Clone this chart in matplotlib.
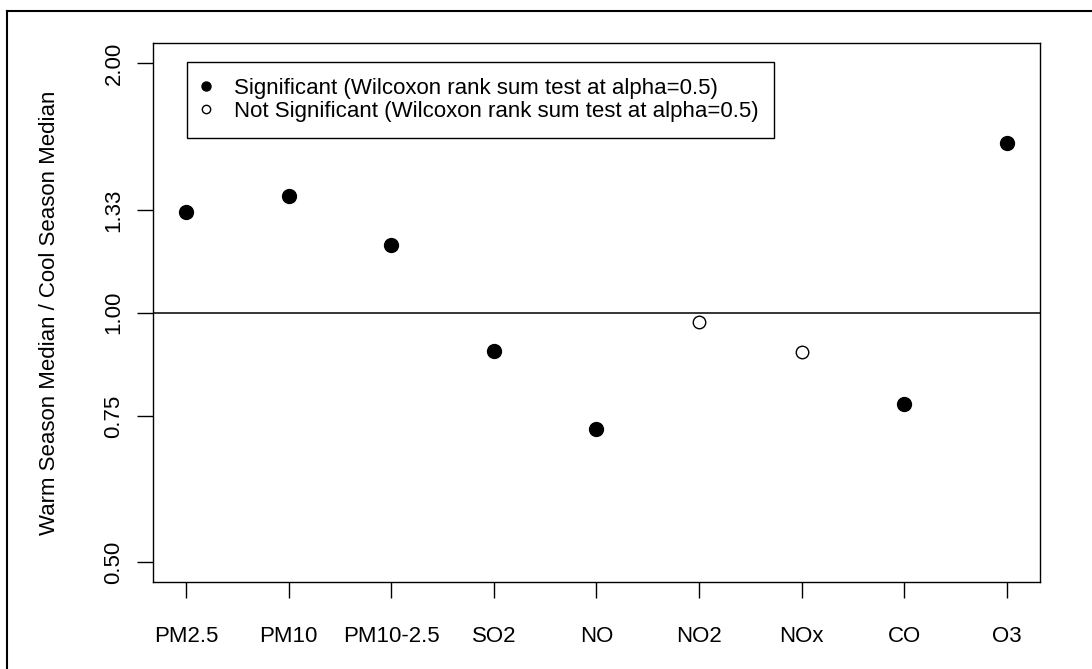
import matplotlib
matplotlib.use("Agg")
import matplotlib.pyplot as plt
from matplotlib.lines import Line2D
import numpy as np

plt.rcParams['font.family'] = ['Liberation Sans', 'DejaVu Sans']

categories = ["PM2.5", "PM10", "PM10-2.5", "SO2", "NO", "NO2", "NOx", "CO", "O3"]
ratios = [1.323, 1.383, 1.207, 0.898, 0.723, 0.973, 0.895, 0.775, 1.603]
significant = [True, True, True, True, True, False, False, True, True]
ytick_vals = [0.50, 0.75, 1.00, 1.33, 2.00]
ytick_labels = ["0.50", "0.75", "1.00", "1.33", "2.00"]
legend_labels = ["Significant (Wilcoxon rank sum test at alpha=0.5)",
                 "Not Significant (Wilcoxon rank sum test at alpha=0.5)"]
ylabel = "Warm Season Median / Cool Season Median"

W, H = 1092, 669
FS = 16
fig = plt.figure(figsize=(W / 100, H / 100), dpi=100)
ax = fig.add_axes([153 / W, 1 - 582 / H, (1040 - 153) / W, (582 - 43) / H])

x = np.arange(1, len(categories) + 1)
ratios = np.array(ratios)
sig = np.array(significant)

ax.plot(x[sig], ratios[sig], 'o', color='black', markersize=10, linestyle='none', zorder=3)
ax.plot(x[~sig], ratios[~sig], 'o', markerfacecolor='white', markeredgecolor='black',
        markersize=9, markeredgewidth=1.0, linestyle='none', zorder=3)

ax.axhline(1.0, color='black', linewidth=1.1, zorder=2)

ax.set_yscale('log')
ax.set_ylim(2 ** -1.08, 2 ** 1.08)
ax.set_xlim(0.68, 9.32)
ax.set_yticks(ytick_vals)
ax.set_yticklabels(ytick_labels, rotation=90, va='center')
ax.yaxis.set_minor_locator(matplotlib.ticker.NullLocator())
ax.set_xticks(x)
ax.set_xticklabels(categories)
ax.tick_params(axis='both', direction='out', length=11.5, width=1.0, labelsize=FS, color='black')
ax.tick_params(axis='y', pad=9)
ax.tick_params(axis='x', pad=20)
ax.set_ylabel(ylabel, fontsize=FS, labelpad=31)

for sp in ax.spines.values():
    sp.set_linewidth(1.0)
    sp.set_color('black')

handles = [
    Line2D([], [], marker='o', linestyle='none', color='black', markersize=6.5),
    Line2D([], [], marker='o', linestyle='none', markerfacecolor='white',
           markeredgecolor='black', markersize=6, markeredgewidth=1.0),
]
leg = ax.legend(handles, legend_labels, loc='upper left',
                bbox_to_anchor=(187 / W, 1 - 62 / H), bbox_transform=fig.transFigure,
                borderaxespad=0, fontsize=FS, frameon=True, fancybox=False,
                edgecolor='black', framealpha=1, borderpad=0.7, labelspacing=0.12,
                handlelength=0.3, handletextpad=1.1)
leg.get_frame().set_linewidth(1.0)

# outer border of the figure
fig.add_artist(Line2D([7 / W, 1.01], [1 - 11 / H, 1 - 11 / H], transform=fig.transFigure,
                      color='black', linewidth=1.5))
fig.add_artist(Line2D([7 / W, 7 / W], [1 - 11 / H, -0.01], transform=fig.transFigure,
                      color='black', linewidth=1.5))

fig.savefig("out.png", dpi=100)
